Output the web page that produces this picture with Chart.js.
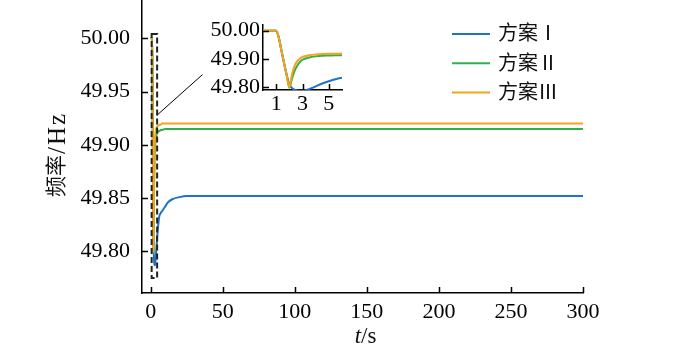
<!DOCTYPE html>
<html>
<head>
<meta charset="utf-8">
<script src="https://cdn.jsdelivr.net/npm/chart.js@4/dist/chart.umd.min.js"></script>
<style>
  html, body { margin: 0; padding: 0; background: #fff; }
  #wrap { position: relative; width: 700px; height: 354px; }
  #main { position: absolute; left: 0; top: 0; }
  #inset { position: absolute; left: 200px; top: 15px; }
</style>
</head>
<body>
<div id="wrap">
  <canvas id="main" width="700" height="354" style="width:700px;height:354px"></canvas>
  <canvas id="inset" width="150" height="105" style="width:150px;height:105px"></canvas>
</div>
<script>
// time axis (s)
var timeS = [0, 1, 1.2, 1.4, 1.6, 1.8, 2, 2.2, 2.4, 2.6, 2.8, 3, 3.5, 4, 4.5, 5, 5.5, 6,
             7, 8, 10, 12, 15, 20, 25, 30, 40, 50, 100, 150, 200, 250, 300];

// frequency (Hz)
var plan1 = [50.00, 50.00, 49.975, 49.93, 49.885, 49.843, 49.81, 49.797, 49.791, 49.788, 49.787, 49.787,
             49.793, 49.803, 49.813, 49.821, 49.828, 49.833,
             49.836, 49.838, 49.842, 49.846, 49.849, 49.851, 49.852, 49.852, 49.852, 49.852, 49.852, 49.852, 49.852, 49.852, 49.852];
var plan2 = [50.00, 50.00, 49.975, 49.93, 49.885, 49.842, 49.798, 49.83, 49.858, 49.876, 49.889, 49.897,
             49.905, 49.909, 49.911, 49.912, 49.913, 49.913,
             49.914, 49.914, 49.915, 49.915, 49.915, 49.915, 49.915, 49.915, 49.915, 49.915, 49.915, 49.915, 49.915, 49.915, 49.915];
var plan3 = [50.00, 50.00, 49.975, 49.93, 49.885, 49.842, 49.80, 49.845, 49.875, 49.892, 49.901, 49.907,
             49.913, 49.916, 49.917, 49.918, 49.918, 49.919,
             49.919, 49.92, 49.92, 49.92, 49.92, 49.92, 49.92, 49.92, 49.92, 49.92, 49.92, 49.92, 49.92, 49.92, 49.92];

var seriesNames = ["方案Ⅰ", "方案Ⅱ", "方案Ⅲ"];
var seriesColors = ["#1f72c4", "#2fb04a", "#f7a21b"];

var xTicksMain = [0, 50, 100, 150, 200, 250, 300];
var yTicksMain = [49.80, 49.85, 49.90, 49.95, 50.00];
var xTicksInset = [1, 3, 5];
var yTicksInset = [49.80, 49.90, 50.00];

// zoom box drawn on main chart (data coords)
var zoomBox = { x0: 0.7, x1: 4.5, y0: 49.775, y1: 50.004 };

var serif = '"Liberation Serif", "Times New Roman", serif';
var mixed = '"Liberation Serif", "Noto Sans CJK SC", serif';

function toPoints(ys) {
  return timeS.map((t, i) => ({ x: t, y: ys[i] }));
}

function makeDatasets() {
  return [plan1, plan2, plan3].map((ys, i) => ({
    label: seriesNames[i],
    data: toPoints(ys),
    borderColor: seriesColors[i],
    backgroundColor: seriesColors[i],
    borderWidth: 2,
    pointRadius: 0,
    cubicInterpolationMode: "monotone",
    order: 2 - i, // orange on top
  }));
}

// little tick marks pointing into the plot
var inwardTicks = {
  id: "inwardTicks",
  afterDraw(chart) {
    var ctx = chart.ctx, a = chart.chartArea;
    var xs = chart.scales.x, ys = chart.scales.y;
    ctx.save();
    ctx.strokeStyle = "#000";
    ctx.lineWidth = 1.5;
    ctx.beginPath();
    xs.ticks.forEach((t) => {
      var px = Math.round(xs.getPixelForValue(t.value)) + 0.5;
      ctx.moveTo(px, a.bottom);
      ctx.lineTo(px, a.bottom - 6);
    });
    ys.ticks.forEach((t) => {
      var py = Math.round(ys.getPixelForValue(t.value)) + 0.5;
      ctx.moveTo(a.left - 1, py);
      ctx.lineTo(a.left + 6, py);
    });
    ctx.stroke();
    ctx.restore();
  },
};

var mainDecor = {
  id: "mainDecor",
  afterDraw(chart) {
    var ctx = chart.ctx, a = chart.chartArea;
    var xs = chart.scales.x, ys = chart.scales.y;
    ctx.save();

    // dashed box round the first seconds
    var bx0 = xs.getPixelForValue(zoomBox.x0), bx1 = xs.getPixelForValue(zoomBox.x1);
    var by0 = ys.getPixelForValue(zoomBox.y0), by1 = ys.getPixelForValue(zoomBox.y1);
    ctx.strokeStyle = "#222";
    ctx.lineWidth = 2;
    ctx.setLineDash([6, 3]);
    ctx.strokeRect(bx0, by1, bx1 - bx0, by0 - by1);
    ctx.setLineDash([]);

    // connector to the inset
    ctx.lineWidth = 1;
    ctx.strokeStyle = "#000";
    ctx.beginPath();
    ctx.moveTo(bx1, ys.getPixelForValue(49.928));
    ctx.lineTo(xs.getPixelForValue(36), ys.getPixelForValue(49.966));
    ctx.stroke();

    // legend
    ctx.font = "20px " + mixed;
    ctx.textBaseline = "middle";
    ctx.textAlign = "left";
    chart.data.datasets.forEach((ds, i) => {
      var ly = 34 + i * 29.3;
      ctx.strokeStyle = ds.borderColor;
      ctx.lineWidth = 2;
      ctx.beginPath();
      ctx.moveTo(452, ly);
      ctx.lineTo(490, ly);
      ctx.stroke();
      ctx.fillStyle = "#111";
      ctx.fillText(ds.label, 498, ly + 1);
    });

    // y title: 频率 then /Hz, read bottom to top
    ctx.save();
    ctx.fillStyle = "#111";
    ctx.translate(57, 197);
    ctx.rotate(-Math.PI / 2);
    ctx.textAlign = "left";
    ctx.font = "21px " + mixed;
    ctx.fillText("频率", 0, 0);
    var wCjk = ctx.measureText("频率").width;
    ctx.font = "25px " + serif;
    ctx.letterSpacing = "2px";
    ctx.fillText("/Hz", wCjk + 1, 1);
    ctx.letterSpacing = "0px";
    ctx.restore();

    // x title, t in italics
    var cx = (a.left + a.right) / 2 + 3, cy = 337;
    ctx.fillStyle = "#111";
    ctx.font = "italic 23px " + serif;
    var wT = ctx.measureText("t").width;
    ctx.font = "23px " + serif;
    var wS = ctx.measureText("/s").width;
    var sx = cx - (wT + wS) / 2;
    ctx.textAlign = "left";
    ctx.font = "italic 23px " + serif;
    ctx.fillText("t", sx, cy);
    ctx.font = "23px " + serif;
    ctx.fillText("/s", sx + wT, cy);

    ctx.restore();
  },
};

function axisBase(tickValues, fmt, pad, fixed, isX) {
  return {
    type: "linear",
    grid: { display: false, drawTicks: false },
    border: { display: true, color: "#000", width: 1.5 },
    afterBuildTicks: (s) => { s.ticks = tickValues.map((v) => ({ value: v })); },
    afterFit: (s) => {
      if (isX) s.height = fixed; else s.width = fixed;
      s.paddingTop = 0; s.paddingBottom = 0;
      s.paddingLeft = 0; s.paddingRight = 0;
    },
    ticks: {
      autoSkip: false,
      maxRotation: 0,
      padding: pad,
      color: "#000",
      font: { family: serif, size: 22 },
      callback: fmt,
    },
  };
}

var mainX = axisBase(xTicksMain, (v) => String(v), 6, 61, true);
mainX.min = -6; mainX.max = 300;
var mainY = axisBase(yTicksMain, (v) => v.toFixed(2), 12, 142, false);
mainY.min = 49.761; mainY.max = 50.036;

new Chart(document.getElementById("main"), {
  type: "line",
  data: { datasets: makeDatasets() },
  options: {
    responsive: false,
    animation: false,
    layout: { padding: { left: 0, right: 117, top: 0, bottom: 0 } },
    plugins: { legend: { display: false }, tooltip: { enabled: false } },
    scales: { x: mainX, y: mainY },
  },
  plugins: [inwardTicks, mainDecor],
});

var insetX = axisBase(xTicksInset, (v) => String(v), 1, 30, true);
insetX.min = 0; insetX.max = 6;
var insetY = axisBase(yTicksInset, (v) => v.toFixed(2), 3, 63, false);
insetY.min = 49.79; insetY.max = 50.02;

new Chart(document.getElementById("inset"), {
  type: "line",
  data: { datasets: makeDatasets() },
  options: {
    responsive: false,
    animation: false,
    layout: { padding: { left: 0, right: 8, top: 10, bottom: 0 } },
    plugins: { legend: { display: false }, tooltip: { enabled: false } },
    scales: { x: insetX, y: insetY },
  },
  plugins: [inwardTicks],
});
</script>
</body>
</html>
